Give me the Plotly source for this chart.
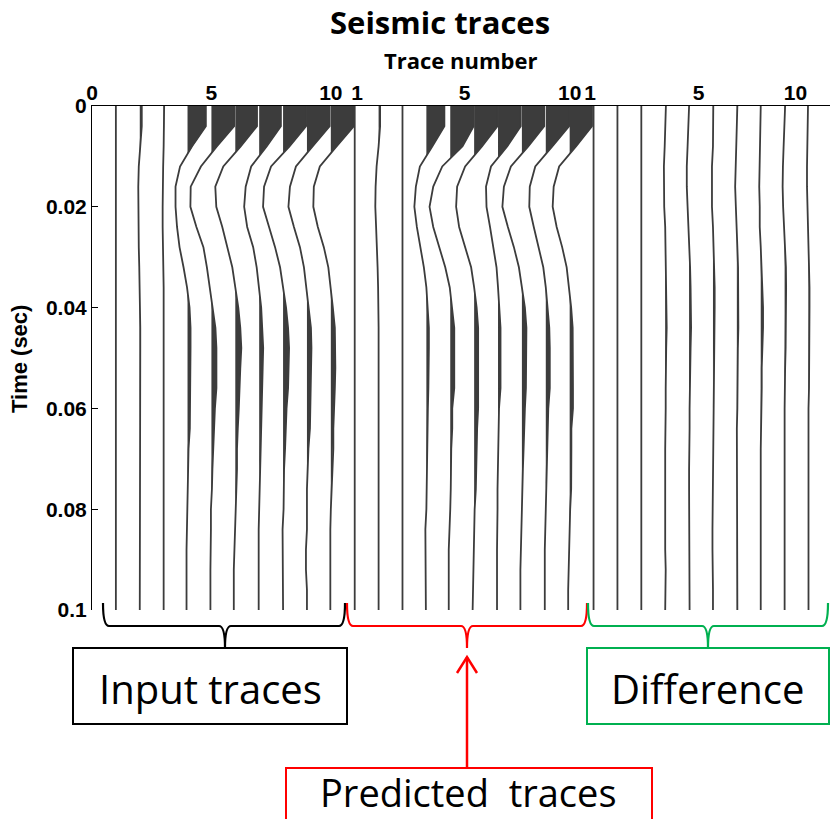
import plotly.graph_objects as go

# Sample times (s), 4 ms sampling
times = [0.000, 0.004, 0.008, 0.012, 0.016, 0.020, 0.024, 0.028, 0.032, 0.036,
         0.040, 0.044, 0.048, 0.052, 0.056, 0.060, 0.064, 0.068, 0.072, 0.076,
         0.080, 0.084, 0.088, 0.092, 0.096, 0.100]

# Input traces 1-10 (amplitude units)
input_traces = [
    [0] * 26,
    [2, 2, 0.5, -1, -1.5, -1.5, -1.5, -1, -0.5, 0, 0.5, 0.5, 0.5, 0.5, 0.5, 0.3, 0, 0, 0, 0, 0, 0, 0, 0, 0, 0],
    [0.5, 0.5, 0, -0.5, -1, -1, -1, -0.5, 0, 0, 0, 0, 0, 0, 0, 0, 0, 0, 0, 0, 0, 0, 0, 0, 0, 0],
    [18.3, 18.3, 4.5, -7.5, -12, -12, -10.5, -8, -4, -0.5, 2, 3, 3, 3, 2.5, 2.3, 2.3, 1, 0.5, 0, -0.5, -1, -1, -1, -1, -1],
    [22.7, 22.7, 5.4, -10.5, -20.7, -21, -15, -8, -4.5, -1.5, 1, 4, 5, 5, 5, 3.5, 2.5, 1.5, 1, 0.5, -0.5, -0.5, -1, -1, -1, -1],
    [21.7, 21.7, 5.4, -12, -20, -19, -13, -8, -3, 0, 3, 5, 6, 5, 4.5, 3.5, 2.5, 1.7, 1.7, 1, 0, 0, -1, -1.5, -1.5, -1.5],
    [21.7, 21.7, 7.6, -8, -13.5, -15, -12, -6, -2.5, 0, 2, 3, 4, 3.5, 3, 2.5, 2, 1, 0.5, 0, -0.5, -0.5, -0.5, -0.5, -0.5, -0.5],
    [23, 23, 6.4, -12, -19, -20, -14, -8, -3, 0, 3, 5, 6, 5.5, 5, 3.5, 3, 2, 1, 1, 0.5, -0.5, -0.5, -0.5, -0.5, 0],
    [22.7, 22.7, 5.6, -11, -17, -18.5, -13, -7, -3, -0.5, 2, 4, 4.5, 4, 4, 3.5, 3, 1.5, 0.5, 0, 0, 0, -1, -1, 0, 0],
    [23, 23, 5.7, -11, -17, -17.5, -13, -7, -2.5, 0, 2, 4, 4.5, 4.5, 4, 3, 2.5, 2.5, 1.5, 0.5, 0, -0.5, -0.5, -0.5, -0.5, -0.5],
]

# Predicted traces 1-10
predicted_traces = [
    [0] * 26,
    [1.5, 1.5, 0, -2, -3, -3.3, -2.5, -1.5, -1, -0.5, 0, 0, 0, 0, 0, 0, 0, 0, 0, 0, 0, 0, 0, 0, 0, 0],
    [0, 0, 0, -0.5, -0.5, -0.5, -0.5, 0, 0, 0, 0, 0, 0, 0, 0, 0, 0, 0, 0, 0, 0, 0, 0, 0, 0, 0],
    [18, 18, 6, -6.5, -10.5, -12, -9.5, -6, -2.5, 0, 1.5, 2.5, 2.5, 2.5, 2, 1.5, 1.3, 1, 0.5, 0, 0, -1, -1, -1, -0.5, -0.5],
    [23.3, 23.3, 12.3, -8, -17, -20.7, -17, -11, -5, -0.5, 2, 4, 4, 4, 4, 2, 2, 1, 1, 0.5, 0, -1, -1.5, -1.5, -1.5, -1.5],
    [23.3, 23.3, 7.8, -9, -17, -18, -15, -9, -3, 0, 2.5, 4, 4, 4, 4, 4, 3, 2.7, 2.5, 1.7, 0.5, 0, -0.5, -1, -1.5, -1.5],
    [22.7, 22.7, 9.3, -7, -12, -11.5, -8, -5, -1.5, 0, 1.5, 2.5, 2.5, 2.5, 2.5, 1, 0.5, 0, 0, -0.5, -0.5, -1, -1, -1, -1, -1],
    [22.3, 22.3, 6.3, -11, -18, -19.5, -14, -8, -3, 0, 3, 4.5, 4.5, 4, 4, 3, 2, 1.7, 1, 0.5, 0, -1, -1.5, -1.5, -1.5, -1.5],
    [23.3, 23.3, 6.5, -10.5, -16, -16.5, -12, -7.5, -2.5, 0, 2, 3.5, 4, 4, 4, 2.5, 2, 1, 1, 0, -0.5, -1, -1, -1, -1, -1],
    [22.3, 22.3, 6.3, -10.5, -16, -17, -13, -7.5, -3, -0.5, 1.5, 3, 3.3, 3.3, 3.3, 3.3, 1.7, 1.7, 1.7, 1.5, 0.5, 0, -1, -1.5, -1.5, -1.5],
]

# Difference (input - predicted) traces 1-10
difference_traces = [
    [0] * 26,
    [0] * 26,
    [0] * 26,
    [0.7, 0.3, -0.5, -1.3, -1.5, -1, 0, 0.3, 1, 1.5, 1.5, 1.5, 1, 0.5, 0.5, 0.5, 0, 0, 0, 0, -0.5, 0, 0, 0.5, 0, 0],
    [0, -0.5, -1.5, -2.3, -2.3, -1.5, -0.5, 0.5, 1, 1.5, 2, 2, 1.5, 1, 1, 0.5, 0.5, 0, 0, 0, 0, 0.5, 0.5, 0.5, 0.5, 0.5],
    [0.3, 0.3, 0, -1, -1.3, -1, 0, 0.5, 1.5, 1.7, 1.7, 1.5, 1, 0.5, 0.5, 0, 0, 0, -0.5, -0.5, -0.5, -0.5, -0.5, 0, 0, 0],
    [0.5, 0, -0.7, -1.2, -1.7, -1, 0, 0.5, 1.2, 1.5, 1.5, 1.5, 1, 1, 0.5, 0.5, 0, 0, 0, 0, 0, 0, 0.5, 0.5, 0.5, 0.5],
    [0, -0.5, -1, -1.5, -1.5, -1, -1, 0, 1, 2, 2.3, 2.3, 1.5, 1, 1, 0.5, 0.5, 0, 0, 0, 0, 0, 0, 0, 0, 0],
    [0.5, -0.5, -1, -1.7, -2, -1.5, -0.5, 0.5, 1.3, 1.5, 1.5, 1.5, 1, 0.5, 0, 0, 0, 0, 0, 0, 0, 0, 0, 0, 0, 0],
    [-0.5, -1, -1.3, -1.5, -1.5, -1, 0, 0.5, 1, 1, 1, 1, 0.5, 0.5, 0.5, 0, 0, 0, 0, 0, 0, 0, 0.5, 0.5, 0, 0],
]

panels = [input_traces, predicted_traces, difference_traces]
tick_text = ["0", "5", "10", "1", "5", "10", "1", "5", "10"]
tick_pos = [0, 5, 10, 11.1, 15.6, 20.0, 20.85, 25.4, 29.45]
time_ticks = [0, 0.02, 0.04, 0.06, 0.08, 0.1]
time_tick_text = ["0", "0.02", "0.04", "0.06", "0.08", "0.1"]

GAIN = 0.0419          # trace-spacing per amplitude unit
WIGGLE = "#3c3c3c"
W, H = 830, 819
L, R, T, B = 92, 0, 106, 209


def positive_lobes(base, amps, t):
    """Closed polygons of the positive parts of one wiggle (None separated)."""
    xs, ys = [], []
    run = None
    n = len(amps)
    for k in range(n):
        a = amps[k]
        if a > 0:
            if run is None:
                if k == 0:
                    run = [(base, t[0])]
                else:
                    a0 = amps[k - 1]
                    tc = t[k - 1] + (t[k] - t[k - 1]) * (-a0) / (a - a0)
                    run = [(base, tc)]
            run.append((base + GAIN * a, t[k]))
            if k == n - 1 or amps[k + 1] <= 0:
                if k == n - 1:
                    run.append((base, t[k]))
                else:
                    a1 = amps[k + 1]
                    tc = t[k] + (t[k + 1] - t[k]) * a / (a - a1)
                    run.append((base, tc))
                for qx, qy in run:
                    xs.append(qx)
                    ys.append(qy)
                xs.append(None)
                ys.append(None)
                run = None
    return xs, ys


fig = go.Figure()
for p, traces in enumerate(panels):
    for i, amps in enumerate(traces):
        base = p * 10 + i + 1
        fx, fy = positive_lobes(base, amps, times)
        if fx:
            fig.add_trace(go.Scatter(x=fx, y=fy, mode="lines", fill="toself",
                                     fillcolor=WIGGLE, line=dict(width=0),
                                     hoverinfo="skip", showlegend=False))
        fig.add_trace(go.Scatter(x=[base + GAIN * a for a in amps], y=times,
                                 mode="lines", line=dict(color=WIGGLE, width=1.8),
                                 showlegend=False))


def px(x):
    return (x - L) / (W - L - R)


def py(y):
    return (H - B - y) / (H - T - B)


def brace(x0, x1, xc, y0, y1, y2, r=6):
    return (f"M {px(x0)},{py(y0)} Q {px(x0)},{py(y1)} {px(x0 + r)},{py(y1)} "
            f"L {px(xc - r)},{py(y1)} Q {px(xc)},{py(y1)} {px(xc)},{py(y2)} "
            f"Q {px(xc)},{py(y1)} {px(xc + r)},{py(y1)} "
            f"L {px(x1 - r)},{py(y1)} Q {px(x1)},{py(y1)} {px(x1)},{py(y0)}")


BLACK, RED, GREEN = "#000000", "#ff0000", "#00b050"
shapes = []
for x0, x1, xc, col in [(103, 345, 225, BLACK), (347, 587, 467, RED), (588, 828, 708, GREEN)]:
    shapes.append(dict(type="path", xref="paper", yref="paper", path=brace(x0, x1, xc, 603, 626, 648),
                       line=dict(color=col, width=2.2)))

for x0, y0, x1, y1, col in [(73, 648, 347, 724, BLACK), (587, 648, 829, 724, GREEN), (286, 768, 652, 842, RED)]:
    shapes.append(dict(type="rect", xref="paper", yref="paper", x0=px(x0), x1=px(x1),
                       y0=py(y0), y1=py(y1), line=dict(color=col, width=2)))

# arrow from the predicted box up to its brace
shapes.append(dict(type="line", xref="paper", yref="paper", x0=px(467), x1=px(467),
                   y0=py(768), y1=py(657), line=dict(color=RED, width=2.5)))
shapes.append(dict(type="path", xref="paper", yref="paper",
                   path=f"M {px(457)},{py(673)} L {px(467)},{py(657)} L {px(477)},{py(673)}",
                   line=dict(color=RED, width=2.5)))

annotations = [
    dict(text="<b>Seismic traces</b>", x=px(440), y=py(22), font=dict(size=31, family="Open Sans", color="black")),
    dict(text="<b>Trace number</b>", x=px(460), y=py(60), font=dict(size=22, family="Open Sans", color="black")),
    dict(text="Input traces", x=px(210), y=py(688), font=dict(size=40, family="Open Sans", color="black")),
    dict(text="Difference", x=px(707), y=py(688), font=dict(size=40, family="Open Sans", color="black")),
    dict(text="Predicted  traces", x=px(468), y=py(792), font=dict(size=38, family="Open Sans", color="black")),
    dict(text="<b>Time (sec)</b>", x=px(19), y=py(359), textangle=-90,
         font=dict(size=22, family="Liberation Sans", color="black")),
]
for a in annotations:
    a.update(xref="paper", yref="paper", xanchor="center", yanchor="middle", showarrow=False)

fig.update_layout(
    width=W, height=H,
    margin=dict(l=L, r=R, t=T, b=B),
    paper_bgcolor="white", plot_bgcolor="white",
    shapes=shapes, annotations=annotations,
    xaxis=dict(range=[0, 30.9], side="top", tickvals=tick_pos, ticktext=tick_text,
               ticks="", showline=True, linecolor="black", linewidth=1,
               showgrid=False, zeroline=False, ticklabelstandoff=-3,
               tickfont=dict(family="Liberation Sans", size=21, color="black", weight="bold")),
    yaxis=dict(range=[0.1, 0], tickvals=time_ticks, ticktext=time_tick_text,
               ticks="inside", ticklen=6, tickcolor="black", showline=True,
               linecolor="black", linewidth=1, showgrid=False, zeroline=False,
               tickfont=dict(family="Liberation Sans", size=21, color="black", weight="bold")),
)

fig.write_html("out.html")
